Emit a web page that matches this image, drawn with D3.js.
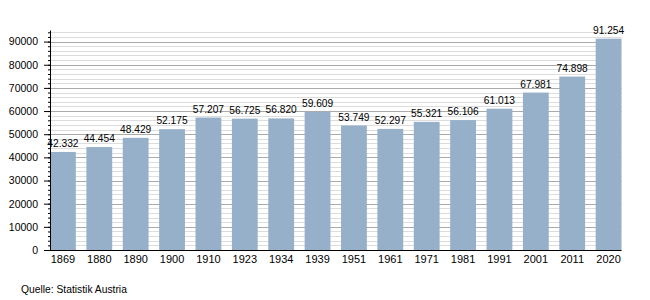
<!DOCTYPE html>
<html>
<head>
<meta charset="utf-8">
<script src="https://cdn.jsdelivr.net/npm/d3@7"></script>
<style>
  body { margin: 0; background: #fff; }
  svg { font-family: "Liberation Sans", Arial, sans-serif; }
  .axis text { font-size: 10.5px; fill: #000; }
  .x-axis text { font-size: 11px; }
  .axis path, .axis line { stroke: #000; }
  .val { font-size: 10.2px; fill: #000; }
  .source { font-size: 10.3px; fill: #000; }
</style>
</head>
<body>
<svg width="650" height="300"></svg>
<script>
const years = ["1869", "1880", "1890", "1900", "1910", "1923", "1934", "1939",
  "1951", "1961", "1971", "1981", "1991", "2001", "2011", "2020"];
const population = [42332, 44454, 48429, 52175, 57207, 56725, 56820, 59609,
  53749, 52297, 55321, 56106, 61013, 67981, 74898, 91254];
const yTicks = [0, 10000, 20000, 30000, 40000, 50000, 60000, 70000, 80000, 90000];
const sourceText = "Quelle: Statistik Austria";

const plot = { left: 50, right: 621.5, top: 30, bottom: 250 };

const svg = d3.select("svg");

const x = d3.scaleBand().domain(years).range([plot.left, plot.right])
  .paddingInner(0.29).paddingOuter(0);
const y = d3.scaleLinear().domain([0, 95000]).range([plot.bottom, plot.top]);

const minor = d3.range(0, 95001, 2000);

// grid
svg.append("g").selectAll("line")
  .data(minor)
  .join("line")
  .attr("x1", plot.left).attr("x2", plot.right)
  .attr("y1", d => Math.round(y(d)) + 0.5).attr("y2", d => Math.round(y(d)) + 0.5)
  .attr("stroke", d => d % 10000 === 0 ? "#aaaaaa" : "#dddddd")
  .attr("stroke-width", 1);

// bars
svg.append("g").selectAll("rect")
  .data(population)
  .join("rect")
  .attr("x", (d, i) => x(years[i]))
  .attr("y", d => y(d))
  .attr("width", x.bandwidth())
  .attr("height", d => y(0) - y(d))
  .attr("fill", "#97b0ca");

// value labels
const fmt = d => d3.format(",")(d).replace(/,/g, ".");
svg.append("g").selectAll("text")
  .data(population)
  .join("text")
  .attr("class", "val")
  .attr("x", (d, i) => x(years[i]) + x.bandwidth() / 2)
  .attr("y", d => y(d) - 5)
  .attr("text-anchor", "middle")
  .text(fmt);

// minor ticks
svg.append("g")
  .attr("class", "axis")
  .attr("transform", `translate(${plot.left},0)`)
  .call(d3.axisLeft(y).tickValues(minor).tickSize(2).tickFormat(""))
  .call(g => g.select(".domain").remove());

// y axis
svg.append("g")
  .attr("class", "axis")
  .attr("transform", `translate(${plot.left},0)`)
  .call(d3.axisLeft(y).tickValues(yTicks).tickSize(6).tickSizeOuter(0).tickPadding(6).tickFormat(d3.format("d")));

// x axis
svg.append("g")
  .attr("class", "axis x-axis")
  .attr("transform", `translate(0,${plot.bottom})`)
  .call(d3.axisBottom(x).tickSize(0).tickPadding(5))
  .call(g => g.select(".domain").attr("d", `M${plot.left},0.5H${plot.right}`));

svg.append("text")
  .attr("class", "source")
  .attr("x", 21)
  .attr("y", 293)
  .text(sourceText);
</script>
</body>
</html>
